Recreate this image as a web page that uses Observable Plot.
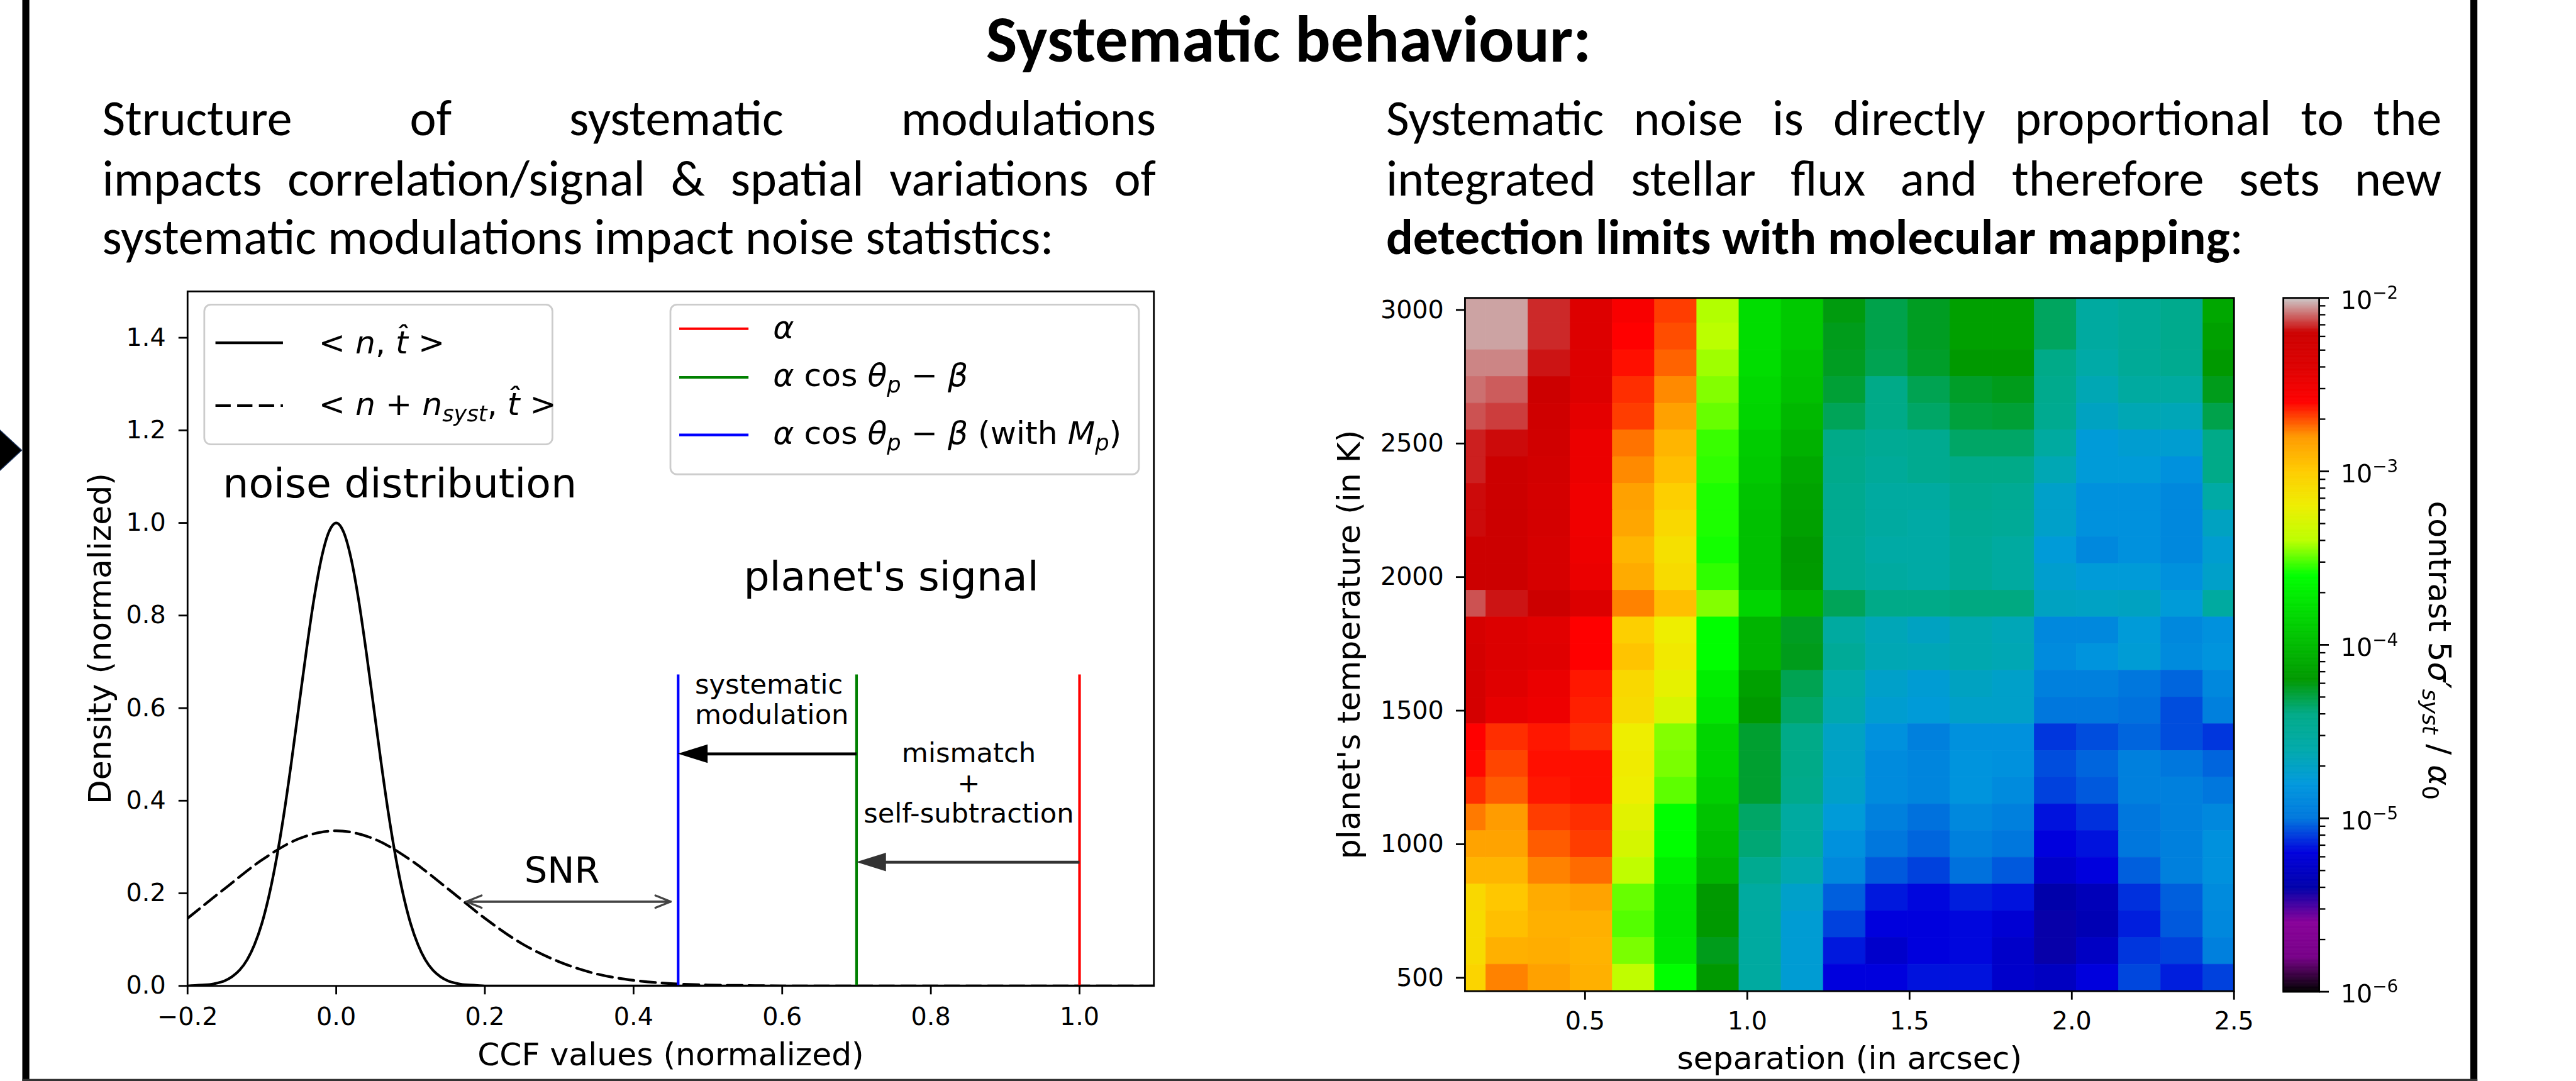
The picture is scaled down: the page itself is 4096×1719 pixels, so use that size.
<!DOCTYPE html>
<html><head><meta charset="utf-8">
<script src="https://cdn.jsdelivr.net/npm/d3@7"></script>
<script src="https://cdn.jsdelivr.net/npm/@observablehq/plot@0.6"></script>
<style>
html,body{margin:0;padding:0;background:#fff;overflow:hidden;width:4096px;height:1719px}
#page{position:absolute;left:0;top:0;width:4388px;height:1842px;transform:scale(0.933455);transform-origin:0 0;background:#fff}
#page svg{position:absolute}
text{white-space:pre}
</style></head><body><div id="page"></div>
<script>
// ---------------- DATA ----------------
// left panel: CCF noise distributions
const ccfX = [-0.20,-0.19,-0.18,-0.17,-0.16,-0.15,-0.14,-0.13,-0.12,-0.11,-0.10,-0.09,-0.08,-0.07,-0.06,-0.05,-0.04,-0.03,-0.02,-0.01,0.00,0.01,0.02,0.03,0.04,0.05,0.06,0.07,0.08,0.09,0.10,0.11,0.12,0.13,0.14,0.15,0.16,0.17,0.18,0.19,0.20,1.10];
const noiseDensity = [0.000,0.001,0.002,0.003,0.006,0.011,0.020,0.034,0.056,0.089,0.135,0.198,0.278,0.375,0.487,0.607,0.726,0.835,0.923,0.980,1.000,0.980,0.923,0.835,0.726,0.607,0.487,0.375,0.278,0.198,0.135,0.089,0.056,0.034,0.020,0.011,0.006,0.003,0.002,0.001,0.000,0.000];
const systX = [-0.20,-0.15,-0.10,-0.05,0.00,0.05,0.10,0.15,0.20,0.25,0.30,0.35,0.40,0.45,0.50,0.55,0.60,1.10];
const systDensity = [0.146,0.210,0.272,0.318,0.335,0.318,0.272,0.210,0.146,0.091,0.052,0.026,0.012,0.005,0.002,0.001,0.000,0.000];
const signalCCF = [1.00, 0.70, 0.46];
const signalColors = ["#ff0000", "#008000", "#0000ff"];
const signalTop = 0.672;
const arrowFrom = [0.70, 1.00];
const arrowTo = [0.46, 0.70];
const arrowY = [0.501, 0.267];
const arrowColors = ["#000000", "#333333"];
const headLength = 0.04, headHalfWidth = 0.02;
const snrFrom = 0.175, snrTo = 0.450, snrY = 0.182;
const notes = [
  {x: 0.0855, y: 1.055, text: "noise distribution", size: 69.5, anchor: "middle"},
  {x: 0.7467, y: 0.854, text: "planet's signal", size: 69.5, anchor: "middle"},
  {x: 0.3037, y: 0.2225, text: "SNR", size: 61.8, anchor: "middle"},
  {x: 0.4825, y: 0.566, text: "systematic\nmodulation", size: 46.3, anchor: "start"},
  {x: 0.851, y: 0.3525, text: "mismatch\n+\nself-subtraction", size: 46.3, anchor: "middle"}
];
const ccfTicks = [-0.2, 0.0, 0.2, 0.4, 0.6, 0.8, 1.0];
const densityTicks = [0.0, 0.2, 0.4, 0.6, 0.8, 1.0, 1.2, 1.4];

// right panel: detection-limit map (log10 of contrast), rows = temperature (3000 -> 500 K)
const separation = [0.13,0.26,0.39,0.52,0.65,0.78,0.91,1.04,1.17,1.30,1.43,1.56,1.69,1.82,1.95,2.08,2.21,2.34,2.47];
const temperature = [3000,2900,2800,2700,2600,2500,2400,2300,2200,2100,2000,1900,1800,1700,1600,1500,1400,1300,1200,1100,1000,900,800,700,600,500];
const log10Contrast = [
  [-2.04,-2.04,-2.16,-2.40,-2.56,-2.68,-3.41,-3.80,-3.92,-4.22,-4.31,-4.25,-4.16,-4.16,-4.34,-4.54,-4.49,-4.43,-4.12],
  [-2.04,-2.04,-2.16,-2.40,-2.60,-2.70,-3.40,-3.80,-3.92,-4.24,-4.31,-4.25,-4.16,-4.16,-4.34,-4.54,-4.49,-4.43,-4.16],
  [-2.07,-2.07,-2.18,-2.40,-2.62,-2.73,-3.43,-3.80,-3.95,-4.25,-4.32,-4.26,-4.20,-4.20,-4.40,-4.58,-4.49,-4.45,-4.20],
  [-2.09,-2.11,-2.20,-2.40,-2.66,-2.78,-3.46,-3.83,-3.97,-4.28,-4.40,-4.32,-4.26,-4.24,-4.43,-4.64,-4.54,-4.54,-4.24],
  [-2.12,-2.14,-2.24,-2.44,-2.68,-2.83,-3.49,-3.85,-4.02,-4.33,-4.40,-4.35,-4.29,-4.28,-4.45,-4.69,-4.64,-4.65,-4.31],
  [-2.17,-2.19,-2.25,-2.49,-2.75,-2.91,-3.54,-3.90,-4.06,-4.40,-4.47,-4.45,-4.35,-4.35,-4.54,-4.78,-4.75,-4.75,-4.40],
  [-2.17,-2.20,-2.27,-2.49,-2.78,-2.95,-3.55,-3.92,-4.11,-4.42,-4.50,-4.45,-4.40,-4.40,-4.64,-4.78,-4.78,-4.85,-4.40],
  [-2.19,-2.20,-2.29,-2.51,-2.83,-3.02,-3.57,-3.95,-4.14,-4.45,-4.54,-4.54,-4.45,-4.47,-4.72,-4.85,-4.85,-4.90,-4.57],
  [-2.19,-2.20,-2.29,-2.51,-2.85,-3.07,-3.57,-3.97,-4.16,-4.46,-4.54,-4.57,-4.47,-4.49,-4.72,-4.85,-4.85,-4.90,-4.69],
  [-2.20,-2.20,-2.32,-2.50,-2.91,-3.12,-3.58,-3.97,-4.20,-4.47,-4.57,-4.57,-4.49,-4.54,-4.78,-4.90,-4.85,-4.90,-4.75],
  [-2.20,-2.20,-2.32,-2.48,-2.87,-3.09,-3.55,-3.97,-4.19,-4.47,-4.54,-4.57,-4.49,-4.54,-4.74,-4.78,-4.78,-4.85,-4.72],
  [-2.12,-2.18,-2.20,-2.39,-2.77,-2.95,-3.46,-3.85,-4.06,-4.33,-4.40,-4.40,-4.39,-4.39,-4.69,-4.70,-4.69,-4.78,-4.54],
  [-2.32,-2.39,-2.43,-2.60,-3.02,-3.20,-3.60,-4.04,-4.25,-4.54,-4.65,-4.69,-4.62,-4.65,-4.90,-4.90,-4.78,-4.90,-4.85],
  [-2.29,-2.39,-2.42,-2.60,-2.97,-3.17,-3.60,-4.04,-4.24,-4.49,-4.64,-4.65,-4.62,-4.64,-4.88,-4.83,-4.77,-4.88,-4.83],
  [-2.29,-2.42,-2.48,-2.63,-3.07,-3.23,-3.70,-4.16,-4.32,-4.60,-4.72,-4.76,-4.69,-4.72,-4.95,-4.95,-5.00,-5.03,-4.90],
  [-2.29,-2.46,-2.50,-2.64,-3.09,-3.29,-3.74,-4.20,-4.35,-4.62,-4.75,-4.78,-4.72,-4.72,-5.00,-5.00,-5.01,-5.07,-4.95],
  [-2.60,-2.66,-2.63,-2.66,-3.20,-3.46,-3.85,-4.27,-4.40,-4.70,-4.85,-4.95,-4.85,-4.85,-5.11,-5.07,-5.03,-5.07,-5.11],
  [-2.61,-2.69,-2.62,-2.62,-3.18,-3.47,-3.85,-4.27,-4.40,-4.71,-4.88,-4.92,-4.83,-4.85,-5.07,-5.03,-4.95,-5.00,-5.03],
  [-2.66,-2.72,-2.63,-2.62,-3.20,-3.50,-3.88,-4.27,-4.42,-4.72,-4.88,-4.92,-4.83,-4.88,-5.09,-5.05,-4.95,-4.95,-5.00],
  [-2.76,-2.81,-2.68,-2.66,-3.25,-3.60,-3.95,-4.35,-4.54,-4.78,-4.95,-5.01,-4.90,-4.95,-5.17,-5.12,-5.00,-4.95,-4.90],
  [-2.84,-2.84,-2.72,-2.68,-3.30,-3.60,-3.99,-4.37,-4.54,-4.85,-5.00,-5.03,-4.95,-5.00,-5.20,-5.17,-5.00,-4.95,-4.85],
  [-2.91,-2.91,-2.77,-2.74,-3.38,-3.69,-4.04,-4.45,-4.62,-4.90,-5.05,-5.09,-5.01,-5.05,-5.27,-5.20,-5.04,-4.95,-4.85],
  [-3.07,-2.98,-2.87,-2.84,-3.49,-3.76,-4.20,-4.54,-4.72,-5.04,-5.16,-5.19,-5.15,-5.17,-5.40,-5.34,-5.12,-5.04,-4.88],
  [-3.09,-2.95,-2.89,-2.89,-3.51,-3.76,-4.20,-4.54,-4.76,-5.09,-5.20,-5.20,-5.19,-5.24,-5.41,-5.36,-5.15,-5.05,-4.90],
  [-3.09,-2.89,-2.88,-2.90,-3.47,-3.74,-4.24,-4.54,-4.76,-5.16,-5.27,-5.20,-5.19,-5.28,-5.41,-5.30,-5.11,-5.09,-4.95],
  [-3.05,-2.77,-2.83,-2.89,-3.38,-3.60,-4.20,-4.54,-4.76,-5.20,-5.20,-5.17,-5.17,-5.27,-5.31,-5.20,-5.08,-5.15,-5.09]
];
const sepTicks = [0.5, 1.0, 1.5, 2.0, 2.5];
const tempTicks = [500, 1000, 1500, 2000, 2500, 3000];
const cbarTicks = [1e-6, 1e-5, 1e-4, 1e-3, 1e-2];
const cbarTickExp = ["−6", "−5", "−4", "−3", "−2"];

// texts
const titleText = "Systematic behaviour:";
const leftPara = ["Structure of systematic modulations", "impacts correlation/signal & spatial variations of", "systematic modulations impact noise statistics:"];
const rightPara = ["Systematic noise is directly proportional to the", "integrated stellar flux and therefore sets new"];
const rightLastBold = "detection limits with molecular mapping", rightLastTail = ":";

// ---------------- colormap (matplotlib nipy_spectral) ----------------
const nipyStops = [[0.00,0,0,0],[0.05,0.4667,0,0.5333],[0.10,0.5333,0,0.6],[0.15,0,0,0.6667],[0.20,0,0,0.8667],
 [0.25,0,0.4667,0.8667],[0.30,0,0.6,0.8667],[0.35,0,0.6667,0.6667],[0.40,0,0.6667,0.5333],[0.45,0,0.6,0],
 [0.50,0,0.7333,0],[0.55,0,0.8667,0],[0.60,0,1,0],[0.65,0.7333,1,0],[0.70,0.9333,0.9333,0],[0.75,1,0.8,0],
 [0.80,1,0.6,0],[0.85,1,0,0],[0.90,0.8667,0,0],[0.95,0.8,0,0],[1.00,0.8,0.8,0.8]];
function nipySpectral(t) {
  t = Math.max(0, Math.min(1, t));
  const i = Math.min(19, Math.floor(t / 0.05));
  const a = nipyStops[i], b = nipyStops[i + 1];
  const f = (t - a[0]) / (b[0] - a[0]);
  const c = k => Math.round(255 * (a[k] + (b[k] - a[k]) * f));
  return `rgb(${c(1)},${c(2)},${c(3)})`;
}
const colorSpec = {type: "log", domain: [1e-6, 1e-2], interpolate: nipySpectral, clamp: true};

const page = document.getElementById("page");
function put(svg, left, top) { svg.style.left = left + "px"; svg.style.top = top + "px"; page.appendChild(svg); }
const fmt1 = d3.format(".1f");
const baseStyle = {fontFamily: "DejaVu Sans", fontSize: "42.5px", color: "black", background: "transparent", overflow: "visible"};

// ---------------- LEFT CHART ----------------
const LF = {x0: 319, x1: 1965, y0: 496, y1: 1679};
const lm = {l: 230, r: 25, t: 25, b: 175};
const noiseCurve = ccfX.map((x, i) => ({x, y: noiseDensity[i]}));
const systCurve = systX.map((x, i) => ({x, y: systDensity[i]}));
const signals = signalCCF.map((x, i) => ({x, color: signalColors[i]}));
const shifts = arrowFrom.map((x1, i) => ({id: i, x1, x2: arrowTo[i], y: arrowY[i], color: arrowColors[i]}));
const heads = shifts.flatMap(d => [
  {id: d.id, x: d.x2, y1: d.y, y2: d.y, color: d.color},
  {id: d.id, x: d.x2 + headLength, y1: d.y - headHalfWidth, y2: d.y + headHalfWidth, color: d.color}]);
const snr = [{a: snrFrom, b: snrTo, y: snrY}];

const leftChart = Plot.plot({
  width: LF.x1 - LF.x0 + lm.l + lm.r, height: LF.y1 - LF.y0 + lm.t + lm.b,
  marginLeft: lm.l, marginRight: lm.r, marginTop: lm.t, marginBottom: lm.b,
  style: baseStyle,
  x: {domain: [-0.2, 1.1]},
  y: {domain: [0, 1.5]},
  marks: [
    Plot.line(systCurve, {x: "x", y: "y", stroke: "black", strokeWidth: 4.5, strokeDasharray: "26,11", curve: "monotone-x", clip: true}),
    Plot.line(noiseCurve, {x: "x", y: "y", stroke: "black", strokeWidth: 4.5, curve: "monotone-x", clip: true}),
    Plot.ruleX(signals, {x: "x", y1: 0, y2: signalTop, stroke: "color", strokeWidth: 4.5}),
    Plot.link(shifts, {x1: "x1", x2: d => d.x2 + headLength * 0.5, y1: "y", y2: "y", stroke: "color", strokeWidth: 5}),
    Plot.areaY(heads, {x: "x", y1: "y1", y2: "y2", z: "id", fill: "color", curve: "linear"}),
    Plot.arrow(snr, {x1: "a", x2: "b", y1: "y", y2: "y", stroke: "#444", strokeWidth: 3.5, headLength: 12, headAngle: 44}),
    Plot.arrow(snr, {x1: "b", x2: "a", y1: "y", y2: "y", stroke: "#444", strokeWidth: 3.5, headLength: 12, headAngle: 44}),
    ...notes.map(n => Plot.text([n], {x: "x", y: "y", text: "text", fontSize: n.size, textAnchor: n.anchor, lineAnchor: "bottom", lineHeight: 1.11})),
    Plot.frame({stroke: "black", strokeWidth: 3}),
    Plot.axisX({ticks: ccfTicks, tickFormat: fmt1, tickSize: 15, tickPadding: 21, strokeWidth: 3, label: null}),
    Plot.axisY({ticks: densityTicks, tickFormat: fmt1, tickSize: 15, tickPadding: 22, strokeWidth: 3, label: null}),
    Plot.text(["CCF values (normalized)"], {text: d => d, frameAnchor: "bottom", textAnchor: "middle", dy: 135, lineAnchor: "bottom", fontSize: 54}),
    Plot.text(["Density (normalized)"], {text: d => d, frameAnchor: "left", textAnchor: "middle", dx: -131, rotate: -90, lineAnchor: "bottom", fontSize: 54})
  ]
});
put(leftChart, LF.x0 - lm.l, LF.y0 - lm.t);

// ---------------- HEATMAP ----------------
const HF = {x0: 2495, x1: 3805, y0: 507, y1: 1688};
const hm = {l: 270, r: 25, t: 25, b: 175};
const cells = [];
temperature.forEach((T, i) => separation.forEach((s, j) => cells.push({s, T, v: Math.pow(10, log10Contrast[i][j])})));
const halfSep = 0.065, halfT = 50;
const heat = Plot.plot({
  width: HF.x1 - HF.x0 + hm.l + hm.r, height: HF.y1 - HF.y0 + hm.t + hm.b,
  marginLeft: hm.l, marginRight: hm.r, marginTop: hm.t, marginBottom: hm.b,
  style: baseStyle,
  x: {domain: [0.13, 2.5]},
  y: {domain: [450, 3045]},
  color: colorSpec,
  marks: [
    Plot.rect(cells, {x1: d => d.s - halfSep, x2: d => d.s + halfSep, y1: d => d.T - halfT, y2: d => d.T + halfT, fill: "v", stroke: "v", strokeWidth: 0.8, clip: true}),
    Plot.frame({stroke: "black", strokeWidth: 3}),
    Plot.axisX({ticks: sepTicks, tickFormat: fmt1, tickSize: 15, tickPadding: 20, strokeWidth: 3, label: null}),
    Plot.axisY({ticks: tempTicks, tickFormat: d => String(d), tickSize: 15, tickPadding: 21, strokeWidth: 3, label: null}),
    Plot.text(["separation (in arcsec)"], {text: d => d, frameAnchor: "bottom", textAnchor: "middle", dy: 133, lineAnchor: "bottom", fontSize: 54}),
    Plot.text(["planet's temperature (in K)"], {text: d => d, frameAnchor: "left", textAnchor: "middle", dx: -179, rotate: -90, lineAnchor: "bottom", fontSize: 54})
  ]
});
put(heat, HF.x0 - hm.l, HF.y0 - hm.t);

// ---------------- COLORBAR ----------------
const CF = {x0: 3889, x1: 3950, y0: 507, y1: 1689};
const cm = {l: 10, r: 30, t: 25, b: 25};
const cbarSteps = d3.range(-6, -2, 0.004);
const minorTicks = [];
for (let k = -6; k < -2; k++) for (let m = 2; m <= 9; m++) minorTicks.push(m * Math.pow(10, k));
const cbar = Plot.plot({
  width: CF.x1 - CF.x0 + cm.l + cm.r, height: CF.y1 - CF.y0 + cm.t + cm.b,
  marginLeft: cm.l, marginRight: cm.r, marginTop: cm.t, marginBottom: cm.b,
  style: baseStyle,
  x: {domain: [0, 1], axis: null},
  y: {type: "log", domain: [1e-6, 1e-2]},
  color: colorSpec,
  marks: [
    Plot.rect(cbarSteps, {x1: 0, x2: 1, y1: e => Math.pow(10, e), y2: e => Math.pow(10, e + 0.004), fill: e => Math.pow(10, e + 0.002), stroke: e => Math.pow(10, e + 0.002), strokeWidth: 0.8}),
    Plot.frame({stroke: "black", strokeWidth: 3}),
    Plot.axisY({anchor: "right", ticks: cbarTicks, tickSize: 16, tickFormat: () => "", strokeWidth: 3, label: null}),
    Plot.axisY({anchor: "right", ticks: minorTicks, tickSize: 10, tickFormat: () => "", strokeWidth: 2.5, label: null})
  ]
});
put(cbar, CF.x0 - cm.l, CF.y0 - cm.t);
const cbarY = cbar.scale("y");

// ---------------- OVERLAY (frame, texts, legends) ----------------
const ov = d3.create("svg").attr("width", 4388).attr("height", 1842).style("overflow", "visible");
page.appendChild(ov.node()); ov.style("left", "0px").style("top", "0px");

// slide frame
ov.append("rect").attr("x", 38).attr("y", 0).attr("width", 12).attr("height", 1842).attr("fill", "black");
ov.append("rect").attr("x", 4208).attr("y", 0).attr("width", 12).attr("height", 1842).attr("fill", "black");
ov.append("rect").attr("x", 38).attr("y", 1838).attr("width", 4182).attr("height", 4).attr("fill", "#333");
ov.append("path").attr("d", "M-60,677L37,767L-60,857Z").attr("fill", "black").attr("stroke", "#1f3864").attr("stroke-width", 1.5);

function runsText(parent, x, y, runs, o = {}) {
  const size = o.size;
  const t = parent.append("text").attr("x", x).attr("y", y)
    .attr("font-family", o.family || "DejaVu Sans").attr("font-size", size)
    .attr("text-anchor", o.anchor || "start").attr("fill", "black");
  if (o.transform) t.attr("transform", o.transform);
  let shift = 0;
  for (const r of runs) {
    const ts = t.append("tspan").text(r.t);
    if (r.it) ts.attr("font-style", "italic");
    if (r.bold) ts.attr("font-weight", "bold");
    if (r.sub || r.sup) ts.attr("font-size", size * 0.7);
    const target = r.sub ? size * 0.2 : r.sup ? -size * 0.4 : 0;
    if (target !== shift) { ts.attr("dy", target - shift); shift = target; }
  }
  return t;
}

// title and paragraphs
const paraFont = "Carlito, Lato, 'Open Sans', sans-serif";
function measureRuns(runs, size) {
  const t = runsText(ov, 0, -500, runs, {size, family: paraFont});
  const w = t.node().getComputedTextLength(); t.remove(); return w;
}
const tW = measureRuns([{t: titleText, bold: true}], 100);
const titleSize = 100 * 1031 / tW;
runsText(ov, 2195, 105, [{t: titleText, bold: true}], {size: titleSize, family: paraFont, anchor: "middle"});

const wL = measureRuns([{t: leftPara[2]}], 100);
const wR = measureRuns([{t: rightLastBold, bold: true}, {t: rightLastTail}], 100);
const paraSize = 100 * (1619 / wL + 1462 / wR) / 2;
const baselines = [230, 333, 433];
function justify(line, x0, x1, y) {
  const words = line.split(" ");
  const ws = words.map(w => measureRuns([{t: w}], paraSize));
  const gap = (x1 - x0 - d3.sum(ws)) / (words.length - 1);
  let x = x0;
  words.forEach((w, i) => { runsText(ov, x, y, [{t: w}], {size: paraSize, family: paraFont}); x += ws[i] + gap; });
}
justify(leftPara[0], 174, 1969, baselines[0]);
justify(leftPara[1], 174, 1969, baselines[1]);
runsText(ov, 174, baselines[2], [{t: leftPara[2]}], {size: paraSize, family: paraFont});
justify(rightPara[0], 2361, 4159, baselines[0]);
justify(rightPara[1], 2361, 4159, baselines[1]);
runsText(ov, 2361, baselines[2], [{t: rightLastBold, bold: true}, {t: rightLastTail}], {size: paraSize, family: paraFont});

// legends of the left chart
function legendBox(x0, y0, x1, y1) {
  ov.append("rect").attr("x", x0).attr("y", y0).attr("width", x1 - x0).attr("height", y1 - y0)
    .attr("rx", 11).attr("fill", "white").attr("fill-opacity", 0.8).attr("stroke", "#cccccc").attr("stroke-width", 3);
}
legendBox(348, 519, 941, 757);
ov.append("line").attr("x1", 367).attr("x2", 482).attr("y1", 584).attr("y2", 584).attr("stroke", "black").attr("stroke-width", 4.5);
ov.append("line").attr("x1", 367).attr("x2", 482).attr("y1", 691).attr("y2", 691).attr("stroke", "black").attr("stroke-width", 4.5).attr("stroke-dasharray", "26,11");
const LS = 54;
runsText(ov, 543, 602, [{t: "< "}, {t: "n", it: true}, {t: ", "}, {t: "t\u0302", it: true}, {t: " >"}], {size: LS});
runsText(ov, 543, 707, [{t: "< "}, {t: "n", it: true}, {t: " + "}, {t: "n", it: true}, {t: "syst", it: true, sub: true}, {t: ", "}, {t: "t\u0302", it: true}, {t: " >"}], {size: LS});

legendBox(1142, 519, 1940, 808);
const legendRows = [576, 658, 756];
const legendLineY = [560, 643, 741];
const legendRuns = [
  [{t: "α", it: true}],
  [{t: "α", it: true}, {t: " cos "}, {t: "θ", it: true}, {t: "p", it: true, sub: true}, {t: " − "}, {t: "β", it: true}],
  [{t: "α", it: true}, {t: " cos "}, {t: "θ", it: true}, {t: "p", it: true, sub: true}, {t: " − "}, {t: "β", it: true}, {t: " (with "}, {t: "M", it: true}, {t: "p", it: true, sub: true}, {t: ")"}]
];
signalColors.forEach((c, i) => {
  ov.append("line").attr("x1", 1157).attr("x2", 1275).attr("y1", legendLineY[i]).attr("y2", legendLineY[i]).attr("stroke", c).attr("stroke-width", 4.5);
  runsText(ov, 1317, legendRows[i], legendRuns[i], {size: LS});
});

// colorbar tick labels and label
cbarTicks.forEach((v, i) => {
  const y = CF.y0 - cm.t + cbarY.apply(v);
  runsText(ov, 3987, y + 19, [{t: "10"}, {t: cbarTickExp[i], sup: true}], {size: 42.5});
});
runsText(ov, 0, 0, [{t: "contrast 5"}, {t: "σ", it: true}, {t: "′"}, {t: "syst", it: true, sub: true}, {t: " / "}, {t: "α", it: true}, {t: "0", sub: true}],
  {size: 54, anchor: "middle", transform: "translate(4137,1108) rotate(90)"});
</script></body></html>
